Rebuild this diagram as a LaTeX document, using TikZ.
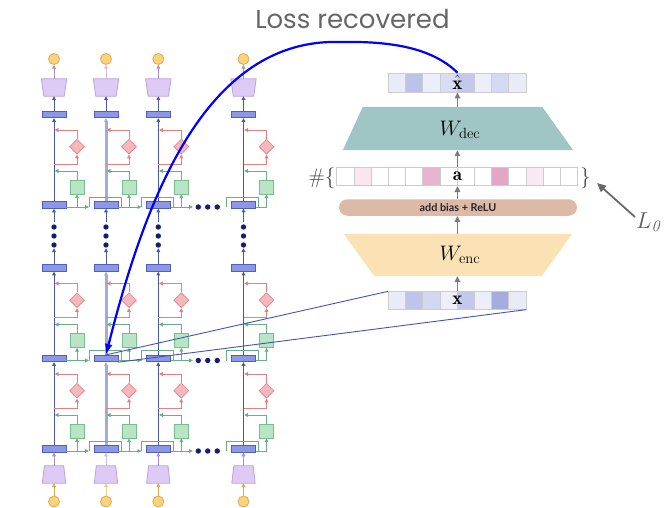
\RequirePackage{fix-cm}
\documentclass[tikz,border=0pt]{standalone}
\usepackage{fontspec}
\newfontfamily\latof{Lato}
\newfontfamily\popf{Poppins}
\usetikzlibrary{arrows.meta,shapes.geometric}
\definecolor{resfill}{HTML}{8C98E6}
\definecolor{resdraw}{HTML}{4F5FC0}
\definecolor{resline}{HTML}{4A58A8}
\definecolor{reshi}{HTML}{A3ACD6}
\definecolor{attfill}{HTML}{B9E5C6}
\definecolor{attdraw}{HTML}{78BD8E}
\definecolor{attline}{HTML}{6BAE86}
\definecolor{mlpfill}{HTML}{F4B9BC}
\definecolor{mlpdraw}{HTML}{E68A8E}
\definecolor{mlpline}{HTML}{E57F80}
\definecolor{embfill}{HTML}{DDCBF6}
\definecolor{embdraw}{HTML}{B9A2DE}
\definecolor{embline}{HTML}{A78ED8}
\definecolor{embhi}{HTML}{CDBDEA}
\definecolor{tokfill}{HTML}{FAD47C}
\definecolor{tokdraw}{HTML}{E3A94B}
\definecolor{tokline}{HTML}{E0A84A}
\definecolor{tokhi}{HTML}{EFCB8C}
\definecolor{dotnavy}{HTML}{12206E}
\definecolor{decfill}{HTML}{9FC5C4}
\definecolor{encfill}{HTML}{FAE2B4}
\definecolor{pillfill}{HTML}{DDB9A7}
\definecolor{pilltext}{HTML}{2E2222}
\definecolor{cellgray}{HTML}{CCCCCC}
\definecolor{aegray}{HTML}{7B7B7B}
\definecolor{losscol}{HTML}{666666}
\definecolor{darktxt}{HTML}{444444}
\definecolor{projcol}{HTML}{4054B8}
\begin{document}
\begin{tikzpicture}[x=1pt,y=-1pt,
  arr/.style={-{Triangle[length=3.8pt,width=3.8pt]}},
  aearr/.style={draw=aegray,line width=1.6pt,-{Triangle[length=6pt,width=5.5pt]}},
  resrect/.style={rectangle,draw=resdraw,fill=resfill,line width=0.8pt,minimum width=24pt,minimum height=6.5pt,inner sep=0pt},
  attbox/.style={rectangle,draw=attdraw,fill=attfill,line width=0.8pt,minimum size=14pt,inner sep=0pt},
  mlpdia/.style={diamond,draw=mlpdraw,fill=mlpfill,line width=0.8pt,minimum width=15pt,minimum height=15pt,inner sep=0pt},
  frame/.style={rectangle,inner sep=0pt,draw=none,fill=none},
  trapline/.style={draw=embdraw,fill=embfill,line width=0.8pt,line join=round},
  tok/.style={circle,draw=tokdraw,fill=tokfill,line width=0.8pt,minimum size=11pt,inner sep=0pt},
  navydot/.style={circle,fill=dotnavy,minimum size=5.4pt,inner sep=0pt},
  attln/.style={draw=attline,line width=1pt},
  mlpln/.style={draw=mlpline,line width=1pt},
  cell/.style={rectangle,draw=cellgray,line width=0.7pt,minimum width=17.2pt,inner sep=0pt},
  projln/.style={draw=projcol,line width=0.9pt},
  bluec/.style={draw=blue,line width=2.2pt,-{Latex[length=11pt,width=8pt]}}
]
\useasboundingbox (0,0) rectangle (666,508);

% ---------- left grid: nodes ----------
\foreach \cc/\xx in {1/54,2/106,3/158.3,4/243.5}{
  \foreach \rr/\yy in {a/114.5,b/205,c/268,d/358.5,e/449}
    \node[resrect] (r\cc\rr) at (\xx,\yy) {};
  \node[frame,minimum width=25pt,minimum height=17pt] (u\cc) at (\xx,87.5) {};
  \path[trapline] (u\cc.north west) -- (u\cc.north east) -- ([xshift=-2.5pt]u\cc.south east) -- ([xshift=2.5pt]u\cc.south west) -- cycle;
  \node[tok] (o\cc) at (\xx,59) {};
  \node[frame,minimum width=23pt,minimum height=17pt] (e\cc) at (\xx,474.5) {};
  \path[trapline] ([xshift=2pt]e\cc.north west) -- ([xshift=-2pt]e\cc.north east) -- (e\cc.south east) -- (e\cc.south west) -- cycle;
  \node[tok] (i\cc) at (\xx,501.5) {};
  \foreach \k/\yy in {1/227,2/236,3/245}
    \node[navydot] (v\cc\k) at (\xx,\yy) {};
  \foreach \bt/\BB in {b/205,d/358.5,e/449}{
    \node[attbox] (g\cc\bt) at (\xx+23,\BB-18) {};
    \node[mlpdia] (m\cc\bt) at (\xx+23,\BB-58.3) {};
    \coordinate (gl\cc\bt) at (\xx+23,\BB+2);
  }
}

% ---------- left grid: connectors ----------
\foreach \cc/\rc/\rw/\ec/\oc in {1/resline/1/embline/tokline,2/reshi/3/embhi/tokhi,3/resline/1/embline/tokline,4/resline/1/embline/tokline}{
  \draw[draw=resline,line width=1pt,arr] (r\cc a.north) -- (u\cc.south);
  \draw[draw=\ec,line width=1pt,arr] (u\cc.north) -- (o\cc.south);
  \draw[draw=\ec,line width=1pt,arr] (e\cc.north) -- (r\cc e.south);
  \draw[draw=\oc,line width=1pt,arr] (i\cc.north) -- (e\cc.south);
  \draw[draw=resline,line width=1pt,arr,shorten >=3.2pt] (r\cc c.north) -- (v\cc3.center);
  \draw[draw=resline,line width=1pt,arr,shorten <=5.5pt] (v\cc1.center) -- (r\cc b.south);
  \foreach \bt/\tp in {b/a,d/c,e/d}{
    \draw[draw=\rc,line width=\rw pt,arr] (r\cc\bt.north) -- (r\cc\tp.south);
    \draw[attln] ([yshift=-2pt]r\cc\bt.east) -- (gl\cc\bt);
    \draw[attln,arr] (gl\cc\bt) -- (g\cc\bt.south);
    \draw[attln,arr] (g\cc\bt.north) |- ([xshift=0.7pt,yshift=34pt]r\cc\bt.center);
    \draw[mlpln,arr] ([yshift=41pt]r\cc\bt.center) -| (m\cc\bt.south);
    \draw[mlpln,arr] (m\cc\bt.north) |- ([xshift=0.7pt,yshift=75pt]r\cc\bt.center);
  }
}

% horizontal (attention) links
\foreach \bt/\BB in {b/205,d/358.5,e/449}{
  \foreach \k/\hx in {1/198.3,2/207.7,3/217.3}
    \node[navydot] (hd\bt\k) at (\hx,\BB+2) {};
  \foreach \cc/\xx in {2/106,3/158.3,4/243.5}{
    \coordinate (bs\cc\bt) at (\xx-17,\BB+2);
    \coordinate (be\cc\bt) at (\xx+15,\BB+2);
    \draw[attln] (bs\cc\bt) -- ++(0,-10) -| (be\cc\bt);
  }
  \draw[attln,arr] (gl1\bt) -- (bs2\bt);
  \draw[attln,arr] (gl2\bt) -- (bs3\bt);
  \draw[attln,arr,shorten >=2.5pt] (gl3\bt) -- (hd\bt1.west);
}

% ---------- right: sparse autoencoder ----------
\foreach \i/\hc in {1/E9EBF7,2/BCC2E8,3/ECEEF9,4/D9DCF3,5/C4C9EB,6/ECEEF9,7/D6D9F2,8/E9EBF7}{
  \definecolor{cellc}{HTML}{\hc}
  \node[cell,fill=cellc,minimum height=19pt] (xh\i) at (379.7+17.2*\i,82.5) {};
}
\foreach \i/\hc in {1/E9EBF7,2/BFC5EA,3/D3D7F1,4/ECEEF9,5/C4C9EB,6/ECEEF9,7/A5ADE0,8/E7EAF7}{
  \definecolor{cellc}{HTML}{\hc}
  \node[cell,fill=cellc,minimum height=17.6pt] (xv\i) at (379.7+17.2*\i,300.5) {};
}
\foreach \i/\hc in {1/FFFFFF,2/F9E6EF,3/FFFFFF,4/FFFFFF,5/FFFFFF,6/E8B5D1,7/FFFFFF,8/FFFFFF,9/FFFFFF,10/E3A7C6,11/FFFFFF,12/FAE9F1,13/FFFFFF,14/FFFFFF}{
  \definecolor{cellc}{HTML}{\hc}
  \node[cell,fill=cellc,minimum height=18.4pt] (a\i) at (328.1+17.2*\i,176.5) {};
}
\node[font=\fontsize{19}{21}\selectfont,inner sep=0pt] (alab) at (457.5,176) {$\mathbf{a}$};
\node[font=\fontsize{19}{21}\selectfont,inner sep=0pt] (xlab) at (457.5,300) {$\mathbf{x}$};

% decoder / encoder trapezoids
\node[frame,minimum width=230pt,minimum height=43pt] (wdec) at (458,128.5) {};
\path[fill=decfill] ([xshift=20pt]wdec.north west) -- ([xshift=-31pt]wdec.north east) -- (wdec.south east) -- (wdec.south west) -- cycle;
\node[font=\fontsize{21}{24}\selectfont,inner sep=0pt] (wdecl) at (460,130) {$W_{\mathrm{dec}}$};
\node[frame,minimum width=228pt,minimum height=42pt] (wenc) at (458,255) {};
\path[fill=encfill] (wenc.north west) -- (wenc.north east) -- ([xshift=-30.5pt]wenc.south east) -- ([xshift=30.5pt]wenc.south west) -- cycle;
\node[font=\fontsize{21}{24}\selectfont,inner sep=0pt] (wencl) at (460,255) {$W_{\mathrm{enc}}$};
\node[fill=pillfill,rounded corners=8.3pt,minimum width=238pt,minimum height=16.5pt,inner sep=0pt,
      font=\latof\bfseries\fontsize{10.8}{12}\selectfont,text=pilltext] (relu) at (458,207.5) {add bias + ReLU};

\node[text=darktxt,font=\fontsize{21}{24}\selectfont,anchor=east,inner sep=0pt] (hashl) at (335.5,178) {\#\{};
\node[text=darktxt,font=\fontsize{21}{24}\selectfont,anchor=west,inner sep=0pt] (rbr) at (580,178) {\}};

\draw[aearr] (xv4.north east) -- (xv4.north east |- wenc.south);
\draw[aearr] (xv4.north east |- wenc.north) -- (xv4.north east |- relu.south);
\draw[aearr] (xv4.north east |- relu.north) -- (a7.south east);
\draw[aearr] (a7.north east) -- (a7.north east |- wdec.south);
\draw[aearr] (xh4.south east |- wdec.north) -- (xh4.south east);

\node[anchor=base west,text=losscol!90!black,font=\fontsize{23}{25}\selectfont,inner sep=0pt] (l0) at (636,228) {$L_{\mathit{0}}$};
\coordinate (l0tail) at (635,217);
\coordinate (l0tip) at (597,183);
\draw[draw=darktxt!80,line width=1.8pt,-{Triangle[length=9pt,width=8pt]}] (l0tail) -- (l0tip);

\node[anchor=base,text=losscol,font=\popf\fontsize{26}{29}\selectfont,inner sep=0pt] (loss) at (352.5,29) {Loss recovered};

% projection lines and the blue curve
\draw[projln] (r2d.north) -- (xv1.north west);
\draw[projln] (r2d.south east) -- (xv8.south east);
\coordinate (lpk) at (340,42);
\draw[bluec] (xh4.north east) .. controls (432,48) and (392,41) .. (lpk) .. controls (205,38) and (145,200) .. (r2d.north);
\node[font=\fontsize{19}{21}\selectfont,inner sep=0pt] (xhlab) at (457.5,82.5) {$\hat{\mathbf{x}}$};
\end{tikzpicture}
\end{document}
